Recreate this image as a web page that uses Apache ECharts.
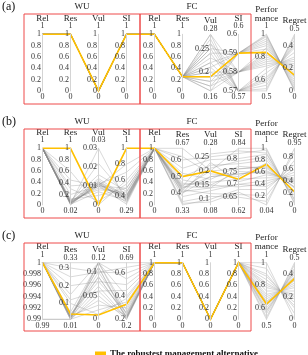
<!DOCTYPE html>
<html>
<head>
<meta charset="utf-8">
<script src="https://cdn.jsdelivr.net/npm/echarts@6/dist/echarts.min.js"></script>
</head>
<body style="margin:0">
<div id="main" style="width:308px;height:355px"></div>
<script>
// axis names (same for the three panels)
var axisNames = ['Rel', 'Res', 'Vul', 'SI', 'Rel', 'Res', 'Vul', 'SI', 'Perfor\nmance', 'Regret'];
var unitTicks = [0, 0.2, 0.4, 0.6, 0.8, 1];

// panel (a)
var aMin = [0, 0, 0, 0, 0, 0, 0.16, 0.57, 0.5, 0];
var aMax = [1, 1, 1, 1, 1, 1, 0.28, 0.6, 1, 0.5];
var aTicks = [unitTicks, unitTicks, unitTicks, unitTicks, unitTicks, unitTicks,
  [0.2, 0.25], [0.57, 0.58, 0.59, 0.6], [0.6, 0.8, 1], [0, 0.2, 0.4]];
var aTop = ['1', '1', '1', '1', '1', '1', '0.28', '0.6', '1', '0.5'];
var aBottom = ['0', '0', '0', '0', '0', '0', '0.16', '0.57', '0.5', '0'];
var aLines = [
  [1, 1, 0, 1, 1, 0.25, 0.28, 0.57, 0.52, 0.48],
  [1, 1, 0, 1, 1, 0.25, 0.26, 0.57, 0.58, 0.42],
  [1, 1, 0, 1, 1, 0.25, 0.25, 0.57, 0.62, 0.38],
  [1, 1, 0, 1, 1, 0.25, 0.24, 0.57, 0.66, 0.34],
  [1, 1, 0, 1, 1, 0.25, 0.22, 0.57, 0.55, 0.45],
  [1, 1, 0, 1, 1, 0.25, 0.21, 0.57, 0.70, 0.30],
  [1, 1, 0, 1, 1, 0.25, 0.20, 0.58, 0.72, 0.28],
  [1, 1, 0, 1, 1, 0.25, 0.19, 0.58, 0.76, 0.24],
  [1, 1, 0, 1, 1, 0.25, 0.18, 0.58, 0.80, 0.20],
  [1, 1, 0, 1, 1, 0.25, 0.17, 0.58, 0.84, 0.16],
  [1, 1, 0, 1, 1, 0.25, 0.16, 0.58, 0.88, 0.12],
  [1, 1, 0, 1, 1, 0.25, 0.23, 0.58, 0.78, 0.22],
  [1, 1, 0, 1, 1, 0.25, 0.16, 0.59, 0.90, 0.10],
  [1, 1, 0, 1, 1, 0.25, 0.17, 0.59, 0.94, 0.06],
  [1, 1, 0, 1, 1, 0.25, 0.18, 0.59, 0.98, 0.02],
  [1, 1, 0, 1, 1, 0.25, 0.19, 0.59, 1.00, 0.00],
  [1, 1, 0, 1, 1, 0.25, 0.21, 0.59, 0.87, 0.13],
  [1, 1, 0, 1, 1, 0.25, 0.22, 0.59, 0.92, 0.08],
  [1, 1, 0, 1, 1, 0.25, 0.25, 0.59, 0.96, 0.04],
  [1, 1, 0, 1, 1, 0.25, 0.28, 0.58, 0.74, 0.26],
  [1, 1, 0, 1, 1, 0.25, 0.27, 0.57, 0.60, 0.40],
  [1, 1, 0, 1, 1, 0.25, 0.20, 0.57, 0.50, 0.50],
  [1, 1, 0, 1, 1, 0.25, 0.24, 0.59, 0.99, 0.01],
  [1, 1, 0, 1, 1, 0.25, 0.26, 0.58, 0.82, 0.18]
];
var aBest = [1, 1, 0, 1, 1, 0.25, 0.19, 0.59, 0.84, 0.14];

// panel (b)
var bMin = [0, 0.02, 0, 0.29, 0, 0.33, 0.08, 0.62, 0.04, 0];
var bMax = [1, 1, 0.03, 1, 1, 0.67, 0.28, 0.84, 1, 0.95];
var bTicks = [unitTicks, [0.2, 0.4, 0.6, 0.8, 1], [0, 0.01, 0.02, 0.03], [0.4, 0.6, 0.8, 1], unitTicks,
  [0.4, 0.5, 0.6], [0.1, 0.15, 0.2, 0.25], [0.65, 0.7, 0.75, 0.8], [0.2, 0.4, 0.6, 0.8, 1], [0, 0.2, 0.4, 0.6, 0.8]];
var bTop = ['1', '1', '0.03', '1', '1', '0.67', '0.28', '0.84', '1', '0.95'];
var bBottom = ['0', '0.02', '0', '0.29', '0', '0.33', '0.08', '0.62', '0.04', '0'];
var bLines = [
  [1, 0.05, 0.011, 0.38, 1, 0.42, 0.12, 0.66, 0.20, 0.75],
  [1, 0.04, 0.012, 0.36, 1, 0.44, 0.14, 0.70, 0.35, 0.60],
  [1, 0.06, 0.010, 0.40, 1, 0.45, 0.16, 0.72, 0.50, 0.45],
  [1, 0.03, 0.011, 0.35, 1, 0.40, 0.18, 0.74, 0.62, 0.35],
  [1, 0.08, 0.009, 0.42, 1, 0.43, 0.20, 0.76, 0.70, 0.28],
  [1, 0.05, 0.013, 0.37, 1, 0.50, 0.22, 0.78, 0.80, 0.20],
  [1, 0.10, 0.008, 0.45, 1, 0.55, 0.24, 0.80, 0.90, 0.10],
  [1, 0.04, 0.030, 0.33, 1, 0.60, 0.25, 0.82, 0.97, 0.04],
  [1, 0.07, 0.022, 0.40, 1, 0.67, 0.20, 0.84, 1.00, 0.02],
  [1, 0.12, 0.005, 0.50, 1, 0.33, 0.10, 0.68, 0.30, 0.68],
  [1, 0.30, 0.002, 0.55, 1, 0.35, 0.11, 0.65, 0.10, 0.88],
  [1, 0.60, 0.000, 0.60, 1, 0.38, 0.13, 0.70, 0.45, 0.50],
  [1, 0.45, 0.010, 0.80, 1, 0.48, 0.15, 0.75, 0.58, 0.40],
  [1, 0.35, 0.011, 0.70, 1, 0.52, 0.17, 0.77, 0.66, 0.30],
  [1, 0.02, 0.012, 0.32, 1, 0.62, 0.19, 0.73, 0.75, 0.22],
  [1, 0.05, 0.010, 0.30, 1, 0.42, 0.21, 0.79, 0.85, 0.15],
  [1, 0.09, 0.016, 0.46, 1, 0.40, 0.23, 0.71, 0.55, 0.42],
  [1, 0.06, 0.014, 0.39, 1, 0.44, 0.26, 0.83, 0.92, 0.08],
  [1, 0.03, 0.007, 0.34, 1, 0.34, 0.09, 0.67, 0.04, 0.95],
  [1, 0.20, 0.010, 0.50, 1, 0.46, 0.15, 0.69, 0.40, 0.55],
  [1, 0.04, 0.011, 0.36, 1, 0.41, 0.14, 0.76, 0.68, 0.30],
  [1, 0.07, 0.012, 0.41, 1, 0.43, 0.18, 0.74, 0.60, 0.38]
];
var bBest = [1, 1, 0, 1, 1, 0.5, 0.2, 0.72, 0.73, 0.22];

// panel (c)
var cMin = [0.99, 0.01, 0, 0.2, 0, 0, 0, 0, 0.5, 0];
var cMax = [1, 0.33, 0.12, 0.69, 1, 1, 1, 1, 1, 0.5];
var cTicks = [[0.99, 0.992, 0.994, 0.996, 0.998, 1], [0.1, 0.2, 0.3], [0, 0.05, 0.1], [0.2, 0.4, 0.6],
  unitTicks, unitTicks, unitTicks, unitTicks, [0.6, 0.8, 1], [0, 0.2, 0.4]];
var cTop = ['1', '0.33', '0.12', '0.69', '1', '1', '1', '1', '1', '0.5'];
var cBottom = ['0.99', '0.01', '0', '0.2', '0', '0', '0', '0', '0.5', '0'];
var cLines = [
  [1, 0.33, 0.12, 0.69, 1, 1, 0, 1, 1.00, 0.00],
  [1, 0.30, 0.10, 0.60, 1, 1, 0, 1, 0.95, 0.05],
  [1, 0.20, 0.08, 0.50, 1, 1, 0, 1, 0.90, 0.10],
  [1, 0.12, 0.06, 0.45, 1, 1, 0, 1, 0.85, 0.15],
  [1, 0.05, 0.12, 0.40, 1, 1, 0, 1, 0.80, 0.20],
  [1, 0.02, 0.10, 0.25, 1, 1, 0, 1, 0.75, 0.25],
  [1, 0.03, 0.09, 0.22, 1, 1, 0, 1, 0.70, 0.30],
  [1, 0.02, 0.07, 0.21, 1, 1, 0, 1, 0.68, 0.32],
  [1, 0.01, 0.05, 0.20, 1, 1, 0, 1, 0.65, 0.35],
  [1, 0.02, 0.04, 0.23, 1, 1, 0, 1, 0.62, 0.38],
  [1, 0.03, 0.03, 0.30, 1, 1, 0, 1, 0.60, 0.40],
  [1, 0.01, 0.02, 0.35, 1, 1, 0, 1, 0.58, 0.42],
  [1, 0.02, 0.11, 0.20, 1, 1, 0, 1, 0.55, 0.45],
  [1, 0.04, 0.08, 0.26, 1, 1, 0, 1, 0.52, 0.48],
  [1, 0.01, 0.06, 0.21, 1, 1, 0, 1, 0.50, 0.50],
  [0.99, 0.01, 0.12, 0.28, 1, 1, 0, 1, 0.72, 0.28],
  [0.99, 0.01, 0.09, 0.22, 1, 1, 0, 1, 0.66, 0.34],
  [1, 0.10, 0.01, 0.38, 1, 1, 0, 1, 0.78, 0.22],
  [1, 0.15, 0.12, 0.55, 1, 1, 0, 1, 0.82, 0.18],
  [1, 0.25, 0.10, 0.65, 1, 1, 0, 1, 0.88, 0.12],
  [1, 0.02, 0.12, 0.24, 1, 1, 0, 1, 0.63, 0.37],
  [1, 0.03, 0.11, 0.22, 1, 1, 0, 1, 0.57, 0.43]
];
var cBest = [1, 0.04, 0.009, 0.33, 1, 1, 0, 1, 0.635, 0.36];

var panels = [
  {min: aMin, max: aMax, ticks: aTicks, top: aTop, bottom: aBottom, lines: aLines, best: aBest},
  {min: bMin, max: bMax, ticks: bTicks, top: bTop, bottom: bBottom, lines: bLines, best: bBest},
  {min: cMin, max: cMax, ticks: cTicks, top: cTop, bottom: cBottom, lines: cLines, best: cBest}
];
var letters = ['(a)', '(b)', '(c)'];

var FONT = '"Liberation Serif", "DejaVu Serif", serif';
var LEFT = 42.5, RIGHT = 13.5, STEP = 28;
var panelTop = [34.3, 148.3, 262.7];
var panelH = 56.6;
var boxTop = [14, 129, 243];
var boxH = [90, 89, 88];
var RED = '#EE4B4B';
var BEST_NAME = 'The robustest management alternative';

var myChart = echarts.init(document.getElementById('main'));

var parallel = [], parallelAxis = [], series = [], graphic = [];

panels.forEach(function (p, k) {
  parallel.push({
    left: LEFT, right: RIGHT, top: panelTop[k], height: panelH,
    layout: 'horizontal'
  });
  for (var i = 0; i < 10; i++) {
    var nm = axisNames[i].split('\n').map(function (s) { return '{n|' + s + '}'; }).join('\n');
    parallelAxis.push({
      dim: i, parallelIndex: k,
      min: p.min[i], max: p.max[i],
      name: nm + '\n{v|' + p.top[i] + '}',
      nameLocation: 'end', nameGap: 1,
      nameTextStyle: {
        fontFamily: FONT, color: '#222',
        rich: {
          n: {fontSize: 9, lineHeight: 8.5, fontFamily: FONT, color: '#222'},
          v: {fontSize: 8, lineHeight: 8, fontFamily: FONT, color: '#333'}
        }
      },
      axisLine: {lineStyle: {color: '#d4d4d4', width: 1}},
      axisTick: {show: false},
      // labels sit to the left of each axis line
      axisLabel: {
        customValues: p.ticks[i], align: 'right', margin: -1.5,
        fontFamily: FONT, fontSize: 8, color: '#333',
        formatter: function (v) { return String(+(+v).toFixed(3)); }
      }
    });
    graphic.push({
      type: 'text', x: LEFT + i * STEP, y: panelTop[k] + panelH + 2.5, silent: true,
      style: {text: p.bottom[i], font: '8px ' + FONT, fill: '#333',
        textAlign: 'center', textVerticalAlign: 'top', align: 'center', verticalAlign: 'top'}
    });
  }
  series.push({
    type: 'parallel', parallelIndex: k, silent: true, z: 1,
    lineStyle: {color: '#8a8a8a', width: 0.6, opacity: 0.55},
    data: p.lines
  });
  series.push({
    name: BEST_NAME, type: 'parallel', parallelIndex: k, silent: true, z: 3,
    lineStyle: {color: '#FFC000', width: 1.6, opacity: 1},
    data: [p.best]
  });

  // red boxes around the WU and FC groups
  graphic.push({type: 'rect', silent: true, z: 100,
    shape: {x: 24, y: boxTop[k], width: 116, height: boxH[k]},
    style: {fill: null, stroke: RED, lineWidth: 1}});
  graphic.push({type: 'rect', silent: true, z: 100,
    shape: {x: 140, y: boxTop[k], width: 111, height: boxH[k]},
    style: {fill: null, stroke: RED, lineWidth: 1}});
  graphic.push({type: 'text', x: 82, y: boxTop[k] - 7.5, silent: true,
    style: {text: 'WU', font: '9px ' + FONT, fill: '#222', textAlign: 'center', textVerticalAlign: 'middle', align: 'center', verticalAlign: 'middle'}});
  graphic.push({type: 'text', x: 192, y: boxTop[k] - 7, silent: true,
    style: {text: 'FC', font: '9px ' + FONT, fill: '#222', textAlign: 'center', textVerticalAlign: 'middle', align: 'center', verticalAlign: 'middle'}});
  graphic.push({type: 'text', x: 2, y: boxTop[k] - 7.5, silent: true,
    style: {text: letters[k], font: '12px ' + FONT, fill: '#111', textAlign: 'left', textVerticalAlign: 'middle', align: 'left', verticalAlign: 'middle'}});
});

myChart.setOption({
  animation: false,
  legend: {
    data: [BEST_NAME], left: 90, top: 344,
    icon: 'rect', itemWidth: 9, itemHeight: 2, itemGap: 4,
    textStyle: {fontFamily: FONT, fontWeight: 'bold', fontSize: 9, color: '#111'}
  },
  parallel: parallel,
  parallelAxis: parallelAxis,
  series: series,
  graphic: graphic
});
</script>
</body>
</html>
